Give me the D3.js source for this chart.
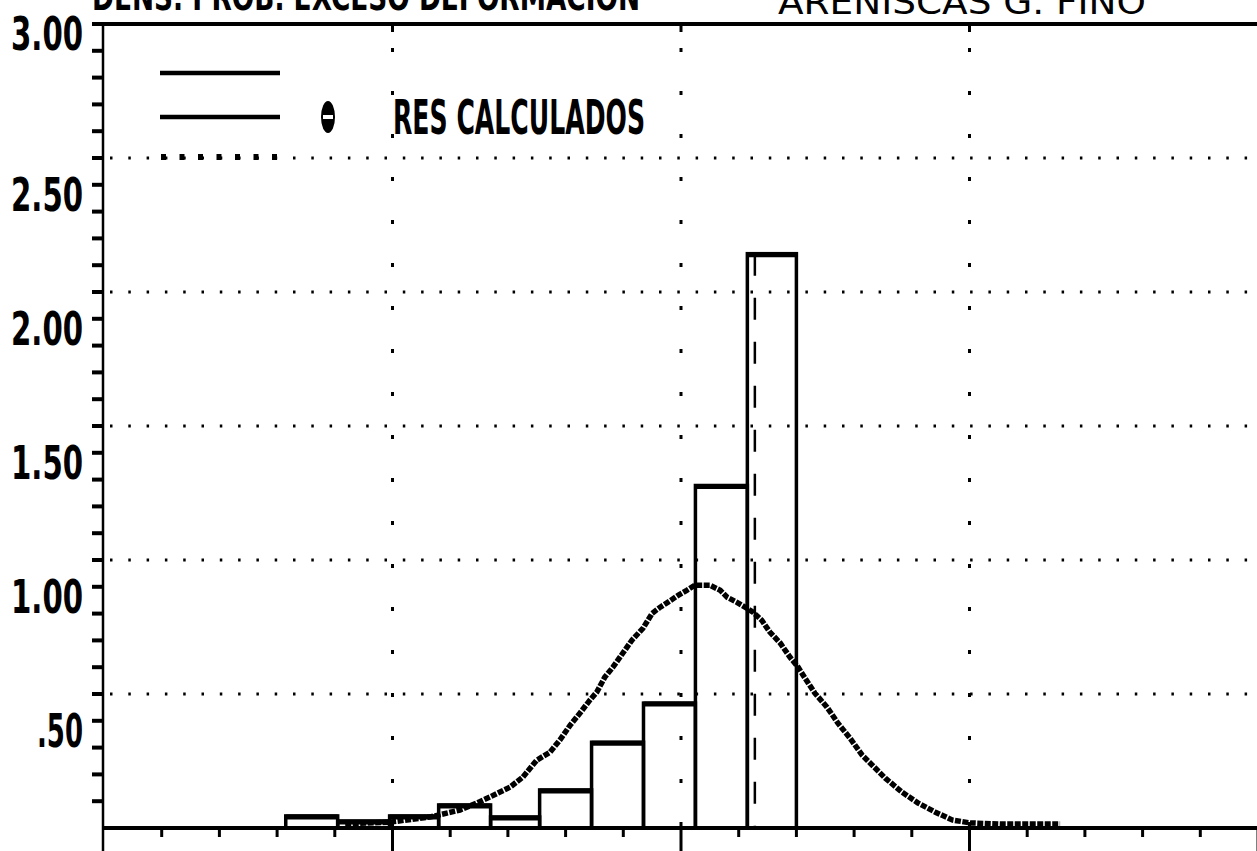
<!DOCTYPE html>
<html>
<meta charset="utf-8">
<head>
<script src="https://d3js.org/d3.v7.min.js"></script>
<title>dens. prob. exceso deformacion</title>
<style>
html, body {
	margin: 0;
	padding: 0;
	background: white;
}
svg {
	display: block;
}
</style>
</head>
<body>
<svg></svg>
<script>
var width = 1257;
var height = 851;

// histogram bins (x in axis units, height in density units)
var binEdges = [3.15, 4.05, 4.95, 5.8, 6.7, 7.55, 8.45, 9.35, 10.25, 11.15, 12.0];
var binValues = [0.045, 0.026, 0.045, 0.086, 0.041, 0.142, 0.32, 0.466, 1.278, 2.143];

// fitted curve ("RES CALCULADOS")
var curveX = [4.18, 4.96, 5.65, 6.17, 6.46, 6.69, 7.04, 7.26, 7.50, 7.73, 7.90, 8.08, 8.25, 8.42, 8.54,
	8.68, 8.82, 8.99, 9.15, 9.34, 9.50, 9.64, 9.77, 9.95, 10.10, 10.24, 10.50, 10.68, 10.80, 10.97,
	11.14, 11.25, 11.40, 11.54, 11.72, 11.89, 12.03, 12.15, 12.32, 12.53, 12.72, 12.93, 13.14, 13.54,
	13.83, 14.11, 14.40, 14.70, 15.01, 15.53, 16.05, 16.57];
var curveY = [0.015, 0.022, 0.041, 0.067, 0.093, 0.116, 0.153, 0.190, 0.253, 0.283, 0.328, 0.384, 0.429, 0.477, 0.507,
	0.563, 0.600, 0.652, 0.701, 0.745, 0.801, 0.824, 0.842, 0.868, 0.887, 0.906, 0.906, 0.887, 0.861, 0.842,
	0.820, 0.805, 0.775, 0.731, 0.690, 0.637, 0.600, 0.559, 0.503, 0.451, 0.391, 0.335, 0.272, 0.186,
	0.134, 0.093, 0.060, 0.030, 0.019, 0.015, 0.015, 0.015];

// dashed marker line
var markX = 11.28;
var markTop = 2.143;

var yTickValues = [3, 2.5, 2, 1.5, 1, 0.5];
var yTickLabels = ["3.00", "2.50", "2.00", "1.50", "1.00", ".50"];
var gridValues = [0.5, 1, 1.5, 2, 2.5];
var xMajorValues = [5, 10, 15];
var legendLabels = ["", "RES CALCULADOS", ""];
var titleLeft = "DENS. PROB. EXCESO DEFORMACION";
var titleRight = "ARENISCAS  G. FINO";

var x = d3.scaleLinear().domain([0, 20]).range([104, 1258]);
var y = d3.scaleLinear().domain([0, 3]).range([828, 24]);

var svg = d3.select("svg")
	.attr("width", width)
	.attr("height", height);

var labelFont = "'Liberation Sans Narrow', 'DejaVu Sans Condensed', 'DejaVu Sans', sans-serif";

// titles (cut at the top edge, as on the original sheet)
svg.append("text")
	.attr("x", 92).attr("y", 10)
	.attr("textLength", 548).attr("lengthAdjust", "spacingAndGlyphs")
	.style("font-family", labelFont).style("font-weight", 700)
	.style("font-size", "38px")
	.text(titleLeft);
svg.append("text")
	.attr("x", 778).attr("y", 14)
	.attr("textLength", 368).attr("lengthAdjust", "spacingAndGlyphs")
	.style("font-family", "'DejaVu Sans', sans-serif")
	.style("font-size", "34px")
	.text(titleRight);

// gridlines
svg.append("g").selectAll("line")
	.data(gridValues)
	.enter().append("line")
		.attr("x1", x(0) + 6).attr("x2", width)
		.attr("y1", function(d) { return y(d); })
		.attr("y2", function(d) { return y(d); })
		.style("stroke", "black")
		.style("stroke-width", 3)
		.style("stroke-dasharray", "2.5 15.8");
svg.append("g").selectAll("line")
	.data(xMajorValues)
	.enter().append("line")
		.attr("x1", function(d) { return x(d); })
		.attr("x2", function(d) { return x(d); })
		.attr("y1", y(3) + 24).attr("y2", y(0))
		.style("stroke", "black")
		.style("stroke-width", 3)
		.style("stroke-dasharray", "4 39");

// histogram bars
var bins = binValues.map(function(v, i) { return {x0: binEdges[i], x1: binEdges[i + 1], v: v}; });
var bar = svg.append("g").selectAll("g")
	.data(bins)
	.enter().append("g");
bar.append("rect")
	.attr("x", function(d) { return x(d.x0); })
	.attr("width", function(d) { return x(d.x1) - x(d.x0); })
	.attr("y", function(d) { return y(d.v); })
	.attr("height", function(d) { return y(0) - y(d.v); })
	.style("fill", "none")
	.style("stroke", "black")
	.style("stroke-width", 3.5);
bar.append("line")
	.attr("x1", function(d) { return x(d.x0); })
	.attr("x2", function(d) { return x(d.x1); })
	.attr("y1", function(d) { return y(d.v) + 1; })
	.attr("y2", function(d) { return y(d.v) + 1; })
	.style("stroke", "black")
	.style("stroke-width", 5);

// dashed marker
svg.append("line")
	.attr("x1", x(markX)).attr("x2", x(markX))
	.attr("y1", y(markTop)).attr("y2", y(0))
	.style("stroke", "black")
	.style("stroke-width", 2.5)
	.style("stroke-dasharray", "22 22");

// curve
var line = d3.line()
	.x(function(d) { return x(d[0]); })
	.y(function(d) { return y(d[1]); });
svg.append("path")
	.datum(curveX.map(function(v, i) { return [v, curveY[i]]; }))
	.attr("d", line)
	.style("fill", "none")
	.style("stroke", "black")
	.style("stroke-width", 5.5)
	.style("stroke-dasharray", "6 1.5");

// axes
svg.append("line")
	.attr("x1", x(0) - 11).attr("x2", width)
	.attr("y1", y(3)).attr("y2", y(3))
	.style("stroke", "black").style("stroke-width", 4);
svg.append("line")
	.attr("x1", x(0)).attr("x2", width)
	.attr("y1", y(0)).attr("y2", y(0))
	.style("stroke", "black").style("stroke-width", 4);
svg.append("line")
	.attr("x1", x(0) - 1).attr("x2", x(0) - 1)
	.attr("y1", y(3)).attr("y2", height)
	.style("stroke", "black").style("stroke-width", 2.5);

// y minor ticks every 0.1
svg.append("g").selectAll("line")
	.data(d3.range(1, 31).map(function(i) { return i / 10; }))
	.enter().append("line")
		.attr("x1", x(0) - 12).attr("x2", x(0))
		.attr("y1", function(d) { return y(d); })
		.attr("y2", function(d) { return y(d); })
		.style("stroke", "black").style("stroke-width", 4);

// x ticks
svg.append("g").selectAll("line")
	.data(d3.range(1, 21))
	.enter().append("line")
		.attr("x1", function(d) { return x(d); })
		.attr("x2", function(d) { return x(d); })
		.attr("y1", y(0))
		.attr("y2", function(d) { return d % 5 === 0 ? height : y(0) + 9; })
		.style("stroke", "black").style("stroke-width", 3);
svg.append("g").selectAll("line")
	.data(xMajorValues)
	.enter().append("line")
		.attr("x1", function(d) { return x(d); })
		.attr("x2", function(d) { return x(d); })
		.attr("y1", y(3)).attr("y2", y(3) + 8)
		.style("stroke", "black").style("stroke-width", 3);

// y labels (placed as the plotter placed them, below their ticks)
svg.append("g").selectAll("text")
	.data(yTickValues)
	.enter().append("text")
		.attr("x", 83)
		.attr("y", function(d) { return d === 3 ? y(d) + 9 : y(d) + 36; })
		.attr("dy", "0.36em")
		.attr("text-anchor", "end")
		.attr("textLength", function(d, i) { return yTickLabels[i].length === 3 ? 46 : 72; })
		.attr("lengthAdjust", "spacingAndGlyphs")
		.style("font-family", labelFont).style("font-weight", 700)
		.style("font-size", "47px")
		.text(function(d, i) { return yTickLabels[i]; });

// legend
var legend = svg.append("g");
var legendY = [73, 117, y(2.5)];
legend.selectAll("line.solid")
	.data([0, 1])
	.enter().append("line")
		.attr("class", "solid")
		.attr("x1", 160).attr("x2", 280)
		.attr("y1", function(d) { return legendY[d]; })
		.attr("y2", function(d) { return legendY[d]; })
		.style("stroke", "black").style("stroke-width", 4.5);
legend.append("line")
	.attr("x1", 161).attr("x2", 280)
	.attr("y1", legendY[2] - 1).attr("y2", legendY[2] - 1)
	.style("stroke", "black").style("stroke-width", 6)
	.style("stroke-dasharray", "5 13.5");
legend.append("ellipse")
	.attr("cx", 328).attr("cy", legendY[1])
	.attr("rx", 7).attr("ry", 16)
	.style("fill", "black");
legend.append("rect")
	.attr("x", 323).attr("y", legendY[1] - 2)
	.attr("width", 10).attr("height", 4)
	.style("fill", "white");
legend.selectAll("text")
	.data(legendLabels.filter(function(d) { return d; }))
	.enter().append("text")
		.attr("x", 393).attr("y", legendY[1])
		.attr("dy", "0.36em")
		.attr("textLength", 252).attr("lengthAdjust", "spacingAndGlyphs")
		.style("font-family", labelFont).style("font-weight", 700)
		.style("font-size", "48px")
		.text(function(d) { return d; });
</script>
</body>
</html>
